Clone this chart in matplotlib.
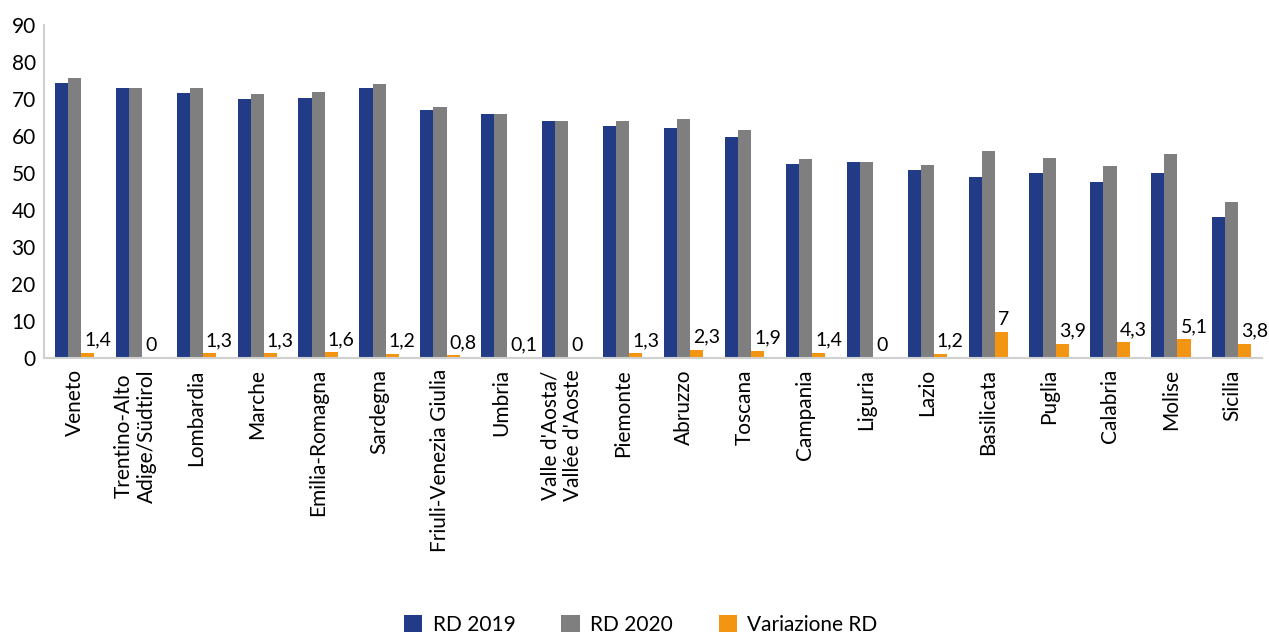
import numpy as np
import matplotlib
matplotlib.use("Agg")
import matplotlib.pyplot as plt

plt.rcParams['font.family'] = ['Lato', 'DejaVu Sans']

# Daten
regioni = ["Veneto", "Trentino-Alto\nAdige/Südtirol", "Lombardia", "Marche", "Emilia-Romagna",
           "Sardegna", "Friuli-Venezia Giulia", "Umbria", "Valle d'Aosta/\nVallée d'Aoste",
           "Piemonte", "Abruzzo", "Toscana", "Campania", "Liguria", "Lazio", "Basilicata",
           "Puglia", "Calabria", "Molise", "Sicilia"]
rd_2019 = [74.3, 72.8, 71.5, 69.9, 70.2, 72.9, 66.9, 65.8, 64.0, 62.7,
           62.2, 59.8, 52.3, 53.0, 50.9, 49.0, 50.0, 47.5, 50.0, 38.2]
rd_2020 = [75.7, 72.8, 72.8, 71.2, 71.8, 74.1, 67.7, 65.9, 64.0, 64.0,
           64.5, 61.7, 53.7, 53.0, 52.1, 56.0, 53.9, 51.8, 55.1, 42.0]
variazione = [1.4, 0, 1.3, 1.3, 1.6, 1.2, 0.8, 0.1, 0, 1.3,
              2.3, 1.9, 1.4, 0, 1.2, 7, 3.9, 4.3, 5.1, 3.8]

blau = "#223B87"
grau = "#7F7F7F"
orange = "#F39512"

fig = plt.figure(figsize=(12.69, 6.33), dpi=100)
ax = fig.add_axes([0.0347, 0.4344, 0.96, 0.5266])

x = np.arange(len(regioni))
w = 0.215
ax.bar(x - w, rd_2019, w, color=blau, label="RD 2019")
ax.bar(x, rd_2020, w, color=grau, label="RD 2020")
balken = ax.bar(x + w, variazione, w, color=orange, label="Variazione RD")

# Beschriftung der Variazione-Balken
for b, v in zip(balken, variazione):
    text = f"{v:g}".replace(".", ",")
    ax.annotate(text, (b.get_x() + b.get_width() / 2, b.get_height()),
                xytext=(-2.5, 3), textcoords="offset points", ha="left", va="bottom",
                fontsize=14)

ax.set_xlim(-0.5, len(regioni) - 0.5)
ax.set_ylim(0, 90)
ax.set_yticks(range(0, 91, 10))
ax.set_xticks(x)
ax.set_xticklabels(regioni, rotation=90, fontsize=15, va="top", ha="center", linespacing=1.2)
ax.tick_params(axis="y", labelsize=15, length=0, pad=6)
ax.tick_params(axis="x", length=0, pad=8)

for s in ["top", "right"]:
    ax.spines[s].set_visible(False)
ax.spines["left"].set_color("#D0D0D0")
ax.spines["bottom"].set_color("#D0D0D0")
ax.spines["left"].set_linewidth(1.5)
ax.spines["bottom"].set_linewidth(1.5)

fig.legend(loc="lower center", bbox_to_anchor=(0.505, -0.033), ncol=3, frameon=False,
           fontsize=15, handlelength=0.87, handleheight=0.87, handletextpad=0.5,
           columnspacing=2.2)

fig.savefig("out.png", dpi=100)
